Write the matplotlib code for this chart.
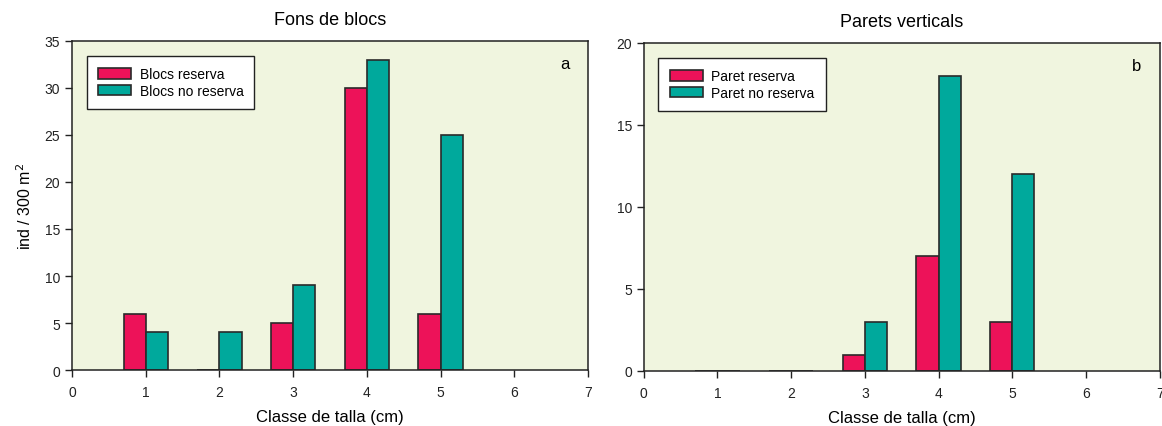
import matplotlib
matplotlib.use('Agg')
import matplotlib.pyplot as plt

plt.rcParams['font.family'] = ['Liberation Sans', 'DejaVu Sans']

# dades llegides del gràfic
classes = [1, 2, 3, 4, 5]
blocs_reserva = [6, 0, 5, 30, 6]
blocs_no_reserva = [4, 4, 9, 33, 25]
paret_reserva = [0, 0, 1, 7, 3]
paret_no_reserva = [0, 0, 3, 18, 12]

pink = '#ED1259'
teal = '#00A99C'
bg = '#F0F5DF'
edge = '#2a2a2a'
w = 0.3

fig = plt.figure(figsize=(11.62, 4.27), dpi=100)
ax1 = fig.add_axes([0.062, 0.131, 0.444, 0.771])
ax2 = fig.add_axes([0.554, 0.129, 0.444, 0.768])


def draw(ax, s1, s2, lab1, lab2, title, letter, ymax, ystep):
    ax.set_facecolor(bg)
    x1 = [c - w / 2 for c in classes]
    x2 = [c + w / 2 for c in classes]
    ax.bar(x1, s1, width=w, color=pink, edgecolor=edge, linewidth=1.2, label=lab1)
    ax.bar(x2, s2, width=w, color=teal, edgecolor=edge, linewidth=1.2, label=lab2)
    ax.set_xlim(0, 7)
    ax.set_ylim(0, ymax)
    ax.set_xticks(range(0, 8))
    ax.set_yticks(range(0, ymax + 1, ystep))
    ax.tick_params(labelsize=10, colors='#222222', length=5, width=1)
    ax.tick_params(axis='x', pad=6)
    for s in ax.spines.values():
        s.set_linewidth(1.1)
        s.set_color('#222222')
    ax.set_title(title, fontsize=13, pad=12)
    ax.set_xlabel('Classe de talla (cm)', fontsize=12, labelpad=7)
    ax.text(0.965, 0.955, letter, transform=ax.transAxes, fontsize=12,
            ha='right', va='top')
    leg = ax.legend(loc='upper left', bbox_to_anchor=(0.015, 0.975), fontsize=10,
                    fancybox=False, framealpha=1, edgecolor='#222222',
                    handlelength=2.4, handleheight=0.8, borderpad=0.8,
                    labelspacing=0.2, handletextpad=0.6)
    leg.get_frame().set_linewidth(1.0)


draw(ax1, blocs_reserva, blocs_no_reserva, 'Blocs reserva', 'Blocs no reserva',
     'Fons de blocs', 'a', 35, 5)
draw(ax2, paret_reserva, paret_no_reserva, 'Paret reserva', 'Paret no reserva',
     'Parets verticals', 'b', 20, 5)
ax1.set_ylabel('ind / 300 m$^2$', fontsize=11.5, labelpad=8)

fig.savefig('out.png', dpi=100)
